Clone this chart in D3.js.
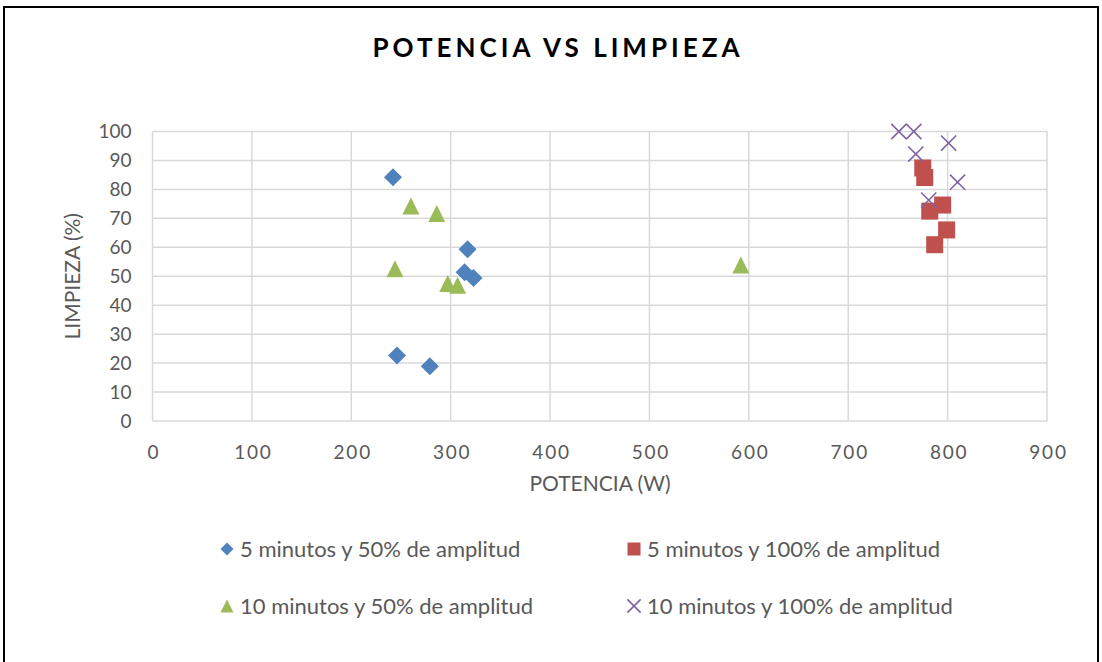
<!DOCTYPE html>
<html>
<head>
<meta charset="utf-8">
<script src="https://cdn.jsdelivr.net/npm/d3@7"></script>
<style>
  html, body { margin: 0; padding: 0; background: #fff; }
  svg { display: block; font-family: Lato, "Open Sans", sans-serif; }
</style>
</head>
<body>
<svg id="chart" width="1102" height="662"></svg>
<script>
// Potencia (W) vs limpieza (%) for each treatment
const seriesNames = [
  "5 minutos y 50% de amplitud",
  "5 minutos y 100% de amplitud",
  "10 minutos y 50% de amplitud",
  "10 minutos y 100% de amplitud"
];
const seriesColors = ["#4f81bd", "#c0504d", "#9bbb59", "#8064a2"];
const seriesShapes = ["diamond", "square", "triangle", "cross"];

const potencia5min50 = [242, 317, 314, 323, 246, 279];
const limpieza5min50 = [84.2, 59.3, 51.4, 49.4, 22.6, 18.9];

const potencia5min100 = [775, 777, 795, 782, 799, 787];
const limpieza5min100 = [87.4, 84.1, 74.6, 72.5, 66.0, 60.9];

const potencia10min50 = [260, 286, 244, 297, 307, 592];
const limpieza10min50 = [74.3, 71.7, 52.6, 47.5, 46.9, 53.9];

const potencia10min100 = [751, 766, 801, 768, 810, 781];
const limpieza10min100 = [100, 100, 96.0, 92.2, 82.5, 76.3];

const xTicks = [0, 100, 200, 300, 400, 500, 600, 700, 800, 900];
const yTicks = [0, 10, 20, 30, 40, 50, 60, 70, 80, 90, 100];

const seriesData = [
  [potencia5min50, limpieza5min50],
  [potencia5min100, limpieza5min100],
  [potencia10min50, limpieza10min50],
  [potencia10min100, limpieza10min100]
].map(([xs, ys]) => xs.map((x, i) => ({ x, y: ys[i] })));

const svg = d3.select("#chart");
const plot = { left: 152.5, right: 1047, top: 131.5, bottom: 421 };

const x = d3.scaleLinear().domain([0, 900]).range([plot.left, plot.right]);
const y = d3.scaleLinear().domain([0, 100]).range([plot.bottom, plot.top]);

// outer frame
svg.append("rect")
  .attr("x", 4).attr("y", 7).attr("width", 1094).attr("height", 670)
  .attr("fill", "none").attr("stroke", "#000").attr("stroke-width", 2);

// title
svg.append("text")
  .attr("x", 558).attr("y", 57)
  .attr("text-anchor", "middle")
  .attr("font-size", 26).attr("font-weight", "bold")
  .attr("letter-spacing", 4)
  .attr("fill", "#000")
  .text("POTENCIA VS LIMPIEZA");

// gridlines
const grid = svg.append("g").attr("stroke", "#d9d9d9").attr("stroke-width", 1.5);
grid.selectAll("line.h").data(yTicks).join("line")
  .attr("x1", plot.left).attr("x2", plot.right)
  .attr("y1", d => y(d)).attr("y2", d => y(d));
grid.selectAll("line.v").data(xTicks).join("line")
  .attr("y1", plot.top).attr("y2", plot.bottom)
  .attr("x1", d => x(d)).attr("x2", d => x(d));

// axes (labels only; lines come from the grid)
const xAxis = svg.append("g")
  .attr("transform", `translate(0,${plot.bottom + 13})`)
  .call(d3.axisBottom(x).tickValues(xTicks).tickSize(0).tickPadding(12));
xAxis.select(".domain").remove();
xAxis.selectAll("text")
  .attr("font-size", 19).attr("fill", "#595959")
  .attr("letter-spacing", 1.8)
  .attr("dx", 1)
  .attr("font-family", "Lato, sans-serif");

const yAxis = svg.append("g")
  .attr("transform", `translate(${plot.left - 21},0)`)
  .call(d3.axisLeft(y).tickValues(yTicks).tickSize(0).tickPadding(0));
yAxis.select(".domain").remove();
yAxis.selectAll("text")
  .attr("font-size", 19).attr("fill", "#595959")
  .attr("font-family", "Lato, sans-serif");

// axis titles
svg.append("text")
  .attr("x", 600).attr("y", 491)
  .attr("text-anchor", "middle")
  .attr("font-size", 21).attr("fill", "#595959")
  .text("POTENCIA (W)");
svg.append("text")
  .attr("transform", `translate(80,${(plot.top + plot.bottom) / 2}) rotate(-90)`)
  .attr("text-anchor", "middle")
  .attr("font-size", 21).attr("fill", "#595959")
  .text("LIMPIEZA (%)");

// marker shapes
function drawMarker(g, shape, color, size) {
  const h = size / 2;
  if (shape === "diamond") {
    g.append("path").attr("d", `M0,${-h}L${h},0L0,${h}L${-h},0Z`).attr("fill", color);
  } else if (shape === "square") {
    g.append("rect").attr("x", -h).attr("y", -h).attr("width", size).attr("height", size).attr("fill", color);
  } else if (shape === "triangle") {
    g.append("path").attr("d", `M0,${-h}L${h},${h}L${-h},${h}Z`).attr("fill", color);
  } else {
    const c = h * 0.95;
    g.append("path").attr("d", `M${-c},${-c}L${c},${c}M${-c},${c}L${c},${-c}`)
      .attr("stroke", color).attr("stroke-width", 1.6).attr("fill", "none");
  }
}

const markerSize = [18, 17, 17, 16];
seriesData.forEach((pts, si) => {
  const g = svg.append("g");
  pts.forEach(p => {
    const m = g.append("g").attr("transform", `translate(${x(p.x)},${y(p.y)})`);
    drawMarker(m, seriesShapes[si], seriesColors[si], markerSize[si]);
  });
});

// legend
const legendPos = [[227, 549], [634, 549], [227, 606], [634, 606]];
seriesNames.forEach((name, i) => {
  const [lx, ly] = legendPos[i];
  const m = svg.append("g").attr("transform", `translate(${lx},${ly})`);
  drawMarker(m, seriesShapes[i], seriesColors[i], i === 3 ? 14 : 13);
  svg.append("text")
    .attr("x", lx + 13).attr("y", ly + 8)
    .attr("font-size", 22).attr("fill", "#595959")
    .text(name);
});
</script>
</body>
</html>
